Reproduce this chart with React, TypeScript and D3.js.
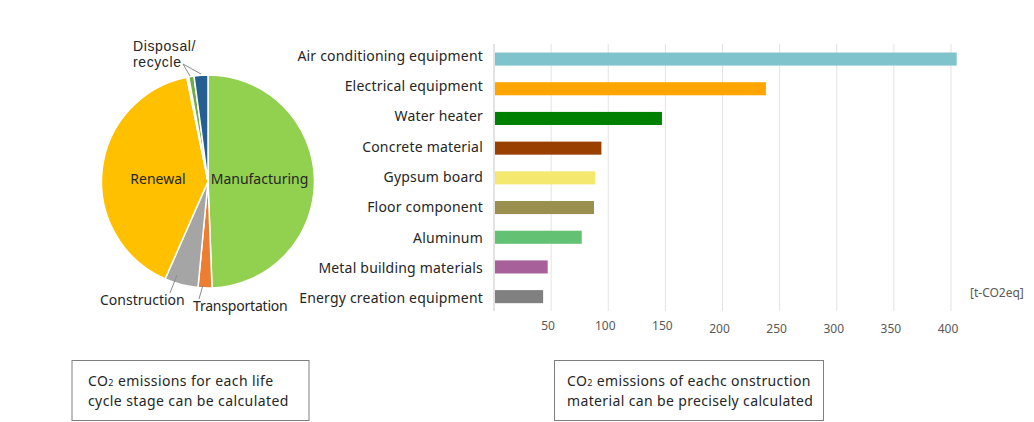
import React from "react";
import * as d3 from "d3";

const pieLabels = ["Manufacturing", "Transportation", "Construction", "Renewal", "Other", "Disposal", "Recycle"];
const pieValues = [49.4, 2.1, 5.1, 40.2, 0.3, 0.8, 2.1];
const pieColors = ["#92D050", "#ED7D31", "#A5A5A5", "#FFC000", "#F2F2F2", "#70AD47", "#255E91"];

const barCategories = [
  "Air conditioning equipment",
  "Electrical equipment",
  "Water heater",
  "Concrete material",
  "Gypsum board",
  "Floor component",
  "Aluminum",
  "Metal building materials",
  "Energy creation equipment",
];
const barValues = [405, 238, 147, 94, 88.7, 87.5, 76.8, 47, 43];
const barColors = ["#7FC4CC", "#FFA500", "#008000", "#994000", "#F5E86F", "#9A8F4E", "#63C174", "#A8609A", "#808080"];
const xTicks = [50, 100, 150, 200, 250, 300, 350, 400];

const FONT = "'Noto Sans', sans-serif";

export default function App() {
  const cx = 208, cy = 181.5, r = 106.5;
  const pie = d3.pie<number>().sort(null).value((d) => d)(pieValues);
  const arc = d3.arc<d3.PieArcDatum<number>>().innerRadius(0).outerRadius(r);

  const x = d3.scaleLinear().domain([0, 400]).range([494, 951]);
  const y = d3.scaleBand<string>().domain(barCategories).range([44.2, 311.5]).paddingInner(0.56).paddingOuter(0.28);
  const yLabel = d3.scalePoint<string>().domain(barCategories).range([60.7, 303.3]);

  const textColor = "#262626";
  const axisColor = "#595959";

  return (
    <svg width={1034} height={422} style={{ position: "absolute", left: 0, top: 0, background: "#fff" }} fontFamily={FONT}>
      {/* Pie */}
      <g transform={`translate(${cx},${cy})`}>
        {pie.map((d, i) => (
          <path key={i} d={arc(d) || ""} fill={pieColors[i]} stroke="#fff" strokeWidth={1.5} />
        ))}
      </g>
      <text x={158} y={184} fontSize={14} fill={textColor} textAnchor="middle">Renewal</text>
      <text x={259.5} y={184} fontSize={14} fill={textColor} textAnchor="middle">Manufacturing</text>
      <text x={133} y={50.5} fontSize={14} fill={textColor} fontFamily="'Liberation Sans', sans-serif" letterSpacing={0.6}>
        <tspan x={133}>Disposal/</tspan>
        <tspan x={133} dy={16.5}>recycle</tspan>
      </text>
      <text x={100} y={305} fontSize={14} fill={textColor}>Construction</text>
      <text x={193} y={310.5} fontSize={14} fill={textColor} letterSpacing={-0.2}>Transportation</text>
      <g stroke="#8C8C8C" strokeWidth={1} fill="none">
        <polyline points="183,64 190,76" />
        <polyline points="183,64 201,74" />
        <line x1={170} y1={293} x2={177} y2={275} />
        <line x1={199} y1={299} x2={203} y2={285} />
      </g>

      {/* Bar chart grid */}
      {xTicks.map((t) => (
        <line key={t} x1={x(t)} x2={x(t)} y1={44} y2={311} stroke="#E3E3E3" strokeWidth={1} />
      ))}
      <line x1={x(0)} x2={x(0)} y1={44} y2={311} stroke="#C8C8C8" strokeWidth={1} />
      {barCategories.map((c, i) => (
        <g key={c}>
          <rect x={x(0) + 1} y={y(c)} width={x(barValues[i]) - x(0) - 1} height={y.bandwidth()} fill={barColors[i]} />
          <text x={483} y={yLabel(c)} textAnchor="end" fontSize={14} fill={textColor} letterSpacing={0.2}>
            {c}
          </text>
        </g>
      ))}
      {xTicks.map((t, i) => (
        <text key={t} x={x(t) - 3} y={i < 3 ? 330 : 333} textAnchor="middle" fontSize={12} fill={axisColor}>
          {t}
        </text>
      ))}
      <text x={970} y={297} fontSize={12} fill={axisColor}>[t-CO2eq]</text>

      {/* Text boxes */}
      <rect x={72} y={360.5} width={237} height={60} fill="none" stroke="#7F7F7F" strokeWidth={1} />
      <text x={88} y={386} fontSize={14} fill={textColor} letterSpacing={0.4}>
        CO<tspan fontSize={9}>2</tspan> emissions for each life
      </text>
      <text x={88} y={405.5} fontSize={14} fill={textColor} letterSpacing={0.4}>cycle stage can be calculated</text>
      <rect x={554.5} y={360.5} width={269} height={60} fill="none" stroke="#7F7F7F" strokeWidth={1} />
      <text x={567} y={386} fontSize={14} fill={textColor} letterSpacing={0.36}>
        CO<tspan fontSize={9}>2</tspan> emissions of eachc onstruction
      </text>
      <text x={567} y={405.5} fontSize={14} fill={textColor} letterSpacing={0.36}>material can be precisely calculated</text>
    </svg>
  );
}
